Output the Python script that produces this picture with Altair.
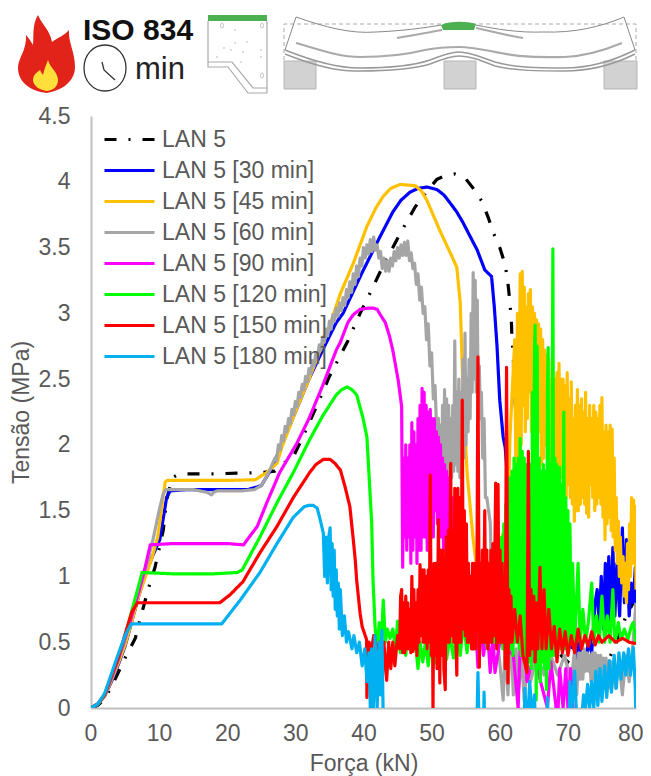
import altair as alt
import pandas as pd

NAMES = ["LAN 5", "LAN 5 [30 min]", "LAN 5 [45 min]", "LAN 5 [60 min]", "LAN 5 [90 min]",
         "LAN 5 [120 min]", "LAN 5 [150 min]", "LAN 5 [180 min]"]
COLORS = ["#000000", "#0000FF", "#FFC000", "#A5A5A5", "#FF00FF", "#00FF00", "#FF0000", "#00B0F0"]
DASHES = [[12, 12, 2, 12], [1, 0], [1, 0], [1, 0], [1, 0], [1, 0], [1, 0], [1, 0]]

LAN5 = [(0,0),(1,.02),(2,.07),(3,.16),(4,.27),(5,.38),(6.5,.53),(7.6,.75),(8.5,.92),(9.4,1.07),(10.6,1.35),(11.1,1.58),(11.9,1.75),
(13,1.78),(18,1.78),(25,1.79),(27,1.8),(28,1.85),(29.7,1.91),(31,2.05),(33,2.28),(35,2.52),(37.7,2.79),(39.5,3.0),(41.2,3.18),(42.4,3.31),
(44.9,3.56),(46.4,3.7),(47.6,3.81),(49.5,3.94),(50.8,4.02),(52.2,4.05),(53.4,4.06),(54.9,4.03),(56.1,3.95),(57.4,3.85),(58.3,3.73),(59,3.62),
(60,3.5),(60.8,3.37),(61.2,3.23),(61.5,3.08),(61.7,2.95),(61.8,2.8),(62,2.67),(62.05,2.52),(62.5,2.11),(62.7,1.98),(63.2,1.66),(63.5,1.2),
(64.5,.9),(66,.6),(68,.45),(70,.35),(71.8,.29),(73.5,.28),(75.7,.34),(76.2,.39),(77.4,.53),(78.4,.68),(79.4,.78),(80,.85)]

LAN5_30 = [(0,0),(1,.03),(2,.09),(3,.2),(4,.33),(5,.47),(6,.66),(7,.85),(8,1.02),(9,1.15),(10.1,1.28),(11.1,1.6),(11.6,1.65),(14,1.66),(20,1.66),
(23,1.66),(25,1.69),(26.5,1.82),(28,2.0),(30,2.25),(32,2.5),(34,2.72),(36,2.93),(37,3.0),(39.8,3.31),(42.4,3.58),(44.3,3.77),(45.5,3.86),(46.8,3.92),(48,3.95),(49.3,3.96),
(50.8,3.94),(51.8,3.9),(52.7,3.84),(53.7,3.77),(54.6,3.69),(56.7,3.48),(57.8,3.33),(58.8,3.28),(59.2,3.05),(59.6,2.75),(60,2.34),(60.5,2.06),(60.8,1.98),(61.5,1.5),
(62.5,1.0),(63.5,.7),(65,.6),(67,.55),(69,.5),(71,.45),(71.3,.36),(71.6,.5),(72,.38),(72.6,.33),(73,.5),(73.5,.42),(74,.8),(74.3,.9),(74.6,.65),
(74.9,1.0),(75.2,.6),(75.5,1.1),(75.8,.6),(76,1.15),(76.3,.65),(76.6,1.22),(76.9,.7),(77.2,1.1),(77.6,.7),(78,1.37),(78.3,.8),(78.6,1.28),(79,.7),
(79.3,.95),(79.6,.8),(79.9,1.07),(80,.77)]

LAN5_45 = [(0,0),(1,.03),(2,.09),(3,.21),(4,.34),(5,.48),(6,.66),(7,.85),(8,1.0),(9,1.15),(9.8,1.3),(10.9,1.72),(11.2,1.73),(20,1.73),(24.1,1.735),
(25.8,1.79),(27.3,1.86),(28,1.98),(30,2.25),(32,2.5),(34,2.77),(35,2.9),(36.6,3.15),(38.5,3.38),(40.5,3.66),(41.8,3.8),(42.9,3.89),(44,3.95),(45.4,3.98),(47.6,3.97),
(48.5,3.93),(49.3,3.86),(51.2,3.63),(53,3.43),(53.7,3.35),(54.2,3.08),(54.5,2.59),(54.7,2.3),(55.2,1.79),(56.1,1.28),(56.7,1.03),(57.2,1.0),(58,.9),(59,1.0),
(60.5,1.33),(61,1.0),(61.5,2.06),(62.2,2.8),(62.4,1.6),(62.6,3.0),(62.8,1.9),(63,3.3),(63.15,2.0),(63.3,3.32),(63.45,2.3),(63.6,3.2),(63.75,2.1),(63.9,3.05),(64.05,2.2),
(64.2,3.15),(64.35,2.4),(64.5,3.18),(64.65,2.1),(64.8,3.05),(64.95,2.2),(65.1,3.0),(65.25,2.2),(65.4,2.95),(65.55,2.0),(65.7,2.92),(65.85,2.1),(66,2.88),(66.15,1.85),(66.3,2.8),
(66.45,1.9),(66.6,2.72),(66.75,2.0),(66.9,2.68),(67.05,2.0),(67.2,2.65),(67.35,1.75),(67.5,2.5),(67.65,1.9),(67.8,2.4),(67.95,1.8),(68.1,2.5),(68.25,1.85),(68.4,2.55),(68.55,1.7),
(68.7,2.62),(68.85,1.85),(69,2.5),(69.15,1.75),(69.3,2.5),(69.45,1.7),(69.6,2.45),(69.75,1.6),(69.9,2.55),(70.05,1.7),(70.2,2.35),(70.35,1.6),(70.5,2.48),(70.65,1.55),(70.8,2.2),
(70.95,1.42),(71.1,2.3),(71.25,1.5),(71.4,2.42),(71.55,1.5),(71.7,2.3),(71.85,1.55),(72,2.35),(72.15,1.6),(72.3,2.25),(72.45,1.55),(72.6,2.4),(72.75,1.48),(72.9,2.2),(73.05,1.45),(73.2,2.3),
(73.35,1.7),(73.5,2.2),(73.65,1.6),(73.8,2.3),(73.95,1.5),(74.1,2.25),(74.25,1.55),(74.4,2.2),(74.55,1.6),(74.7,2.3),(74.85,1.55),(75,2.36),(75.15,1.45),(75.3,2.1),(75.45,1.28),(75.6,2.15),
(75.75,1.4),(75.9,2.1),(76.05,1.45),(76.2,2.15),(76.35,1.35),(76.5,2.12),(76.65,1.3),(76.8,1.9),(76.95,1.2),(77.1,1.6),(77.25,1.1),(77.4,1.42),(77.55,1.0),(77.7,1.3),(77.9,.95),(78.1,1.15),
(78.3,.85),(78.45,1.1),(78.6,.8),(78.75,1.25),(78.9,.9),(79.05,1.4),(79.2,1.0),(79.35,1.6),(79.5,1.1),(79.65,1.58),(79.8,1.1),(79.9,1.53),(80,.9)]

LAN5_60 = [(0,0),(1,.03),(2,.1),(3,.22),(4,.36),(5,.52),(6,.72),(7,.88),(8,1.05),(9.1,1.28),(10,1.5),(10.6,1.63),(11,1.66),(13,1.66),(15,1.66),(16,1.65),
(17,1.64),(17.7,1.62),(18,1.64),(18.5,1.65),(20,1.65),(22,1.65),(24,1.66),(25,1.69),(26,1.78),(26.5,1.84),(27,1.9),(27.25,1.88),(27.5,2.0),(27.75,1.96),(28,2.07),(28.25,2.03),(28.5,2.14),(28.75,2.1),
(29,2.2),(29.25,2.16),(29.5,2.27),(29.75,2.23),(30,2.33),(30.25,2.29),(30.5,2.4),(30.75,2.36),(31,2.46),(31.25,2.42),(31.5,2.52),(31.75,2.48),(32,2.58),(32.25,2.54),(32.5,2.64),(32.75,2.6),
(33,2.7),(33.25,2.66),(33.5,2.76),(33.75,2.72),(34,2.82),(34.25,2.78),(34.5,2.88),(34.75,2.83),(35,2.94),(35.25,2.88),(35.5,2.99),(35.75,2.94),(36,3.04),(36.25,2.98),(36.5,3.08),(36.75,3.02),
(37,3.12),(37.25,3.06),(37.5,3.18),(37.75,3.12),(38,3.24),(38.25,3.16),(38.5,3.3),(38.75,3.22),(39,3.36),(39.25,3.28),(39.5,3.42),(39.75,3.36),(40,3.5),(40.25,3.42),(40.5,3.52),(40.75,3.45),
(41,3.56),(41.25,3.47),(41.5,3.58),(41.75,3.48),(42,3.52),(42.25,3.42),(42.5,3.47),(42.75,3.34),(43,3.42),(43.25,3.32),(43.5,3.4),(43.75,3.32),(44,3.42),(44.25,3.36),(44.5,3.47),(44.75,3.4),
(45,3.5),(45.25,3.42),(45.5,3.52),(45.75,3.44),(46,3.54),(46.25,3.44),(46.5,3.55),(46.75,3.4),(47,3.46),(47.25,3.34),(47.5,3.38),(47.75,3.22),(48,3.3),(48.25,3.1),(48.5,3.2),(48.75,3.0),
(49,3.05),(49.25,2.8),(49.5,2.92),(49.75,2.6),(50,2.7),(50.25,2.35),(50.5,2.45),(50.75,2.1),(51,2.2),(51.15,1.45),(51.3,2.15),(51.45,1.5),(51.6,2.3),(51.75,1.55),(51.9,2.42),(52.05,1.6),(52.2,2.35),(52.35,1.65),
(52.5,2.3),(52.65,1.7),(52.8,2.2),(52.95,1.75),(53.1,2.3),(53.25,1.8),(53.4,2.79),(53.55,1.85),(53.7,2.4),(53.85,1.8),(54,2.5),(54.15,1.75),(54.3,2.4),(54.45,1.85),(54.6,2.65),(54.75,1.9),(54.9,2.85),(55.05,2.0),
(55.2,2.5),(55.35,2.1),(55.5,2.65),(55.65,2.2),(55.8,3.0),(55.95,2.4),(56.1,3.31),(56.25,2.5),(56.4,3.25),(56.55,2.4),(56.7,3.1),(56.85,2.2),(57,2.6),(57.15,2.2),(57.3,2.4),(57.5,1.9),(57.7,2.2),(57.9,1.6),(58.1,1.6),(58.6,1.41),
(58.8,1.0),(59,1.2),(59.5,.6),(60,.35),(60.5,.06),(60.8,.5),(61.2,.1),(61.6,.6),(62,.1),(62.4,.45),(62.8,.15),(63.2,.4),(63.6,.05),(64,.35),(64.5,.2),(65.5,.4),(66.5,.25),(67.5,.4),(68.5,.25),(69.5,.4),(70.5,.2),(71,.45),
(71.3,.1),(71.6,.42),(71.8,.22),(72,.42),(72.2,.22),(72.4,.45),(72.6,.28),(72.8,.42),(73,.28),(73.2,.4),(73.4,.2),(73.6,.42),(73.8,.22),(74,.42),(74.2,.25),(74.4,.4),(74.6,.25),(74.8,.4),(75,.2),(75.2,.38),(75.4,.2),(75.6,.38),
(76,.15),(76.5,.35),(77,.15),(77.5,.35),(78,.1),(78.5,.4),(79,.2),(79.5,.45),(80,.8)]

LAN5_90 = [(0,0),(1,.03),(2,.1),(3,.23),(4,.37),(5,.53),(6,.7),(7,.88),(8,1.08),(8.7,1.24),(12,1.25),(16,1.25),(20,1.25),(22.4,1.24),(22.8,1.27),(24.4,1.38),
(25.8,1.56),(27.7,1.79),(30.2,2.01),(32,2.2),(34,2.45),(36,2.72),(36.6,2.78),(37.7,2.93),(38.5,2.99),(39.5,3.03),(40.7,3.04),(41.4,3.04),(42,3.03),(42.7,2.97),(43.2,2.93),(43.8,2.83),(44.3,2.72),(45.1,2.49),
(45.6,2.29),(45.75,1.07),(45.9,1.9),(46.05,1.3),(46.2,2.0),(46.35,1.2),(46.5,1.9),(46.65,1.3),(46.8,2.0),(46.95,1.1),(47.1,2.17),(47.25,1.2),(47.4,2.1),(47.55,1.3),(47.7,2.0),(47.85,1.1),(48,2.2),(48.15,1.2),
(48.3,2.3),(48.45,1.2),(48.6,2.43),(48.75,1.3),(48.9,2.4),(49.05,1.3),(49.2,2.3),(49.35,1.2),(49.5,2.25),(49.65,1.2),(49.8,2.27),(49.95,1.3),(50.1,2.2),(50.25,1.3),(50.4,2.2),(50.55,1.5),(50.7,2.1),(50.85,1.4),
(51,2.06),(51.15,1.3),(51.3,2.0),(51.45,1.3),(51.6,1.9),(51.75,1.2),(51.9,1.85),(52.05,1.2),(52.2,1.8),(52.4,1.1),(52.6,1.75),(52.8,1.0),(53,1.6),(53.2,.9),(53.4,1.5),(53.6,.8),(53.8,1.3),(54,.8),
(54.2,1.2),(54.4,.7),(54.8,1.1),(55.2,.5),(55.6,.9),(56,.45),(56.4,.7),(56.8,.31),(57.2,.65),(57.6,.4),(58.2,.6),(58.6,.27),(59,.55),(59.3,.27),(60,.5),
(61,.45),(62,.4),(62.7,0),(63,.5),(63.5,.5),(64,.2),(65,.4),(66.5,.1),(67,0),(67.5,.35),(68.5,-.1),(68.8,.3),(69.3,0),(69.7,.3),(70,0),(70.4,.3),(71,-.2)]

LAN5_120 = [(0,0),(1,.03),(2,.1),(3,.24),(4,.38),(5,.55),(6,.74),(7,.93),(7.5,1.03),(12,1.02),(18,1.02),(21.5,1.03),(22.2,1.05),(24.8,1.3),(27.3,1.56),(29.7,1.79),
(32.1,2.04),(34,2.22),(36,2.38),(36.8,2.42),(37.6,2.44),(38.3,2.42),(39,2.38),(39.9,2.21),(40.5,2.06),(41.2,1.41),(41.4,.97),(41.7,.62),(42,.4),(42.3,.65),(42.6,.45),(42.9,.82),(43.2,.5),
(43.5,.6),(43.9,.53),(44.3,.6),(44.7,.45),(45,.66),(45.4,.42),(45.8,.6),(46.2,.4),(46.6,.6),(47,.45),(47.5,.55),(48,.3),(48.3,.5),(48.7,.35),(49.1,.5),(49.5,.32),
(50,.55),(50.4,.34),(50.8,.55),(51.3,.45),(51.7,.55),(52.2,.37),(52.7,.55),(53.2,.38),(53.7,.6),(54.2,.4),(54.7,.65),(55.2,.42),(55.7,.7),(56.2,.45),(56.7,.75),
(57.2,.5),(57.7,.65),(58.2,.45),(58.7,.8),(59.2,.5),(59.5,.9),(59.7,1.0),(59.85,.5),(60,1.1),(60.15,.5),(60.3,1.3),(60.45,.45),(60.6,1.4),(60.75,.5),(60.9,1.55),(61.05,.5),(61.2,1.6),(61.35,.45),(61.5,1.75),(61.65,.45),
(61.8,1.8),(61.95,.4),(62.1,1.9),(62.25,.5),(62.4,1.85),(62.55,.5),(62.7,1.9),(62.85,.45),(63,2.05),(63.15,.4),(63.3,1.95),(63.45,.45),(63.6,1.9),(63.75,.4),(63.9,1.85),(64.05,.3),(64.2,1.8),(64.35,.35),(64.5,1.85),(64.65,.3),
(64.8,2.4),(64.95,.4),(65.1,2.75),(65.2,2.91),(65.35,.06),(65.5,2.75),(65.65,.3),(65.8,1.9),(65.95,.2),(66.1,1.8),(66.25,.35),(66.4,1.85),(66.55,.3),(66.7,1.8),(66.85,.14),(67,2.4),(67.1,2.74),(67.25,.3),(67.4,1.85),(67.55,.4),
(67.8,3.49),(67.95,.4),(68.1,1.9),(68.25,.45),(68.4,1.85),(68.55,.5),(68.8,1.83),(68.95,.45),(69.1,1.7),(69.25,.5),(69.4,2.25),(69.55,.45),(69.7,1.6),(69.85,.5),(70,1.5),(70.15,.5),(70.3,1.4),(70.5,.5),
(70.7,1.1),(71,.5),(71.5,1.1),(71.8,.5),(72.2,.75),(72.6,.5),(73,.65),(73.5,.95),(73.8,.5),(74.2,.7),(74.6,.5),(75,.85),(75.4,.5),(75.8,.7),(76.2,.5),(76.6,.9),
(76.9,.5),(77.4,.65),(77.8,.52),(78.3,.6),(78.8,.52),(79.3,.62),(79.6,.65),(80,.5)]

LAN5_150 = [(0,0),(1,.03),(2,.1),(3,.24),(4,.38),(5,.56),(6,.73),(6.8,.8),(12,.8),(18.9,.8),(20.4,.86),(22.3,.96),(24.8,1.18),(27.3,1.38),(29.7,1.6),(32.1,1.79),(33,1.85),(34.1,1.89),
(35.1,1.89),(35.8,1.86),(36.6,1.81),(37.3,1.68),(38,1.53),(38.5,1.28),(38.8,1.12),(39,.97),(39.5,.72),(39.8,.62),(40.45,.52),(40.5,.08),(40.8,.5),(41.2,.45),(41.5,.55),(42,.45),(42.4,.5),
(42.7,.15),(43,.5),(43.4,.21),(43.7,.5),(44,.3),(44.3,.5),(44.6,.32),(45,.55),(45.3,.45),(45.45,.85),(45.6,.9),(45.75,.42),(45.9,.8),(46.05,.42),(46.2,.85),(46.35,.45),(46.5,.8),(46.65,.45),(46.8,.75),(46.95,.42),
(47.1,1.0),(47.25,.43),(47.4,.9),(47.55,.45),(47.7,.8),(47.85,.4),(48,.9),(48.15,.5),(48.3,1.09),(48.45,.55),(48.6,1.05),(48.75,.5),(48.9,1.05),(49.05,.5),(49.2,1.0),(49.35,.45),(49.5,1.05),(49.65,.5),(49.8,1.77),
(49.95,.4),(50.1,.9),(50.2,0),(50.35,1.1),(50.5,.4),(50.65,1.1),(50.8,.3),(51,1.43),(51.2,.19),(51.35,1.2),(51.5,.4),(51.65,1.2),(51.8,.3),(52,.14),(52.15,1.3),(52.3,.5),(52.45,1.35),(52.6,.5),(52.8,1.86),
(52.95,.55),(53.1,1.35),(53.25,.5),(53.4,1.67),(53.55,.55),(53.7,.25),(53.85,1.67),(54,.5),(54.15,1.6),(54.3,.5),(54.5,2.34),(54.65,.6),(54.8,1.5),(54.95,.55),(55.1,1.4),(55.25,.5),(55.4,1.1),(55.55,.5),(55.7,1.0),
(55.85,.45),(56,1.1),(56.15,.45),(56.3,1.1),(56.45,.45),(56.65,1.0),(56.8,2.67),(57,.31),(57.15,1.1),(57.3,.5),(57.45,1.2),(57.6,.5),(57.8,1.5),(57.95,.5),(58.1,1.2),(58.25,.45),(58.4,1.1),(58.55,.5),(58.7,1.2),
(58.85,.5),(59,1.25),(59.15,.55),(59.4,1.71),(59.55,.45),(59.75,1.7),(59.9,.5),(60.05,1.2),(60.2,.5),(60.35,1.1),(60.5,.5),(60.65,1.0),(60.8,.3),(61,2.59),(61.2,.19),(61.35,.9),(61.5,.5),(61.65,.85),(61.8,.5),
(62.2,.75),(62.6,.5),(63,.7),(63.4,.4),(64,.27),(64.2,1.95),(64.4,.4),(64.6,.9),(64.8,.45),(65,.85),(65.2,.35),(65.4,.8),(65.6,.45),(65.9,1.07),(66.2,.45),(66.5,.9),(66.8,.45),(67.2,.75),(67.6,.45),(68,.62),
(68.4,.35),(68.8,.6),(69.2,.42),(69.6,.58),(70,.4),(70.5,.55),(71,.42),(71.5,.6),(72,.45),(72.5,.55),(73,.47),(73.5,.58),(74,.48),(74.5,.55),(75,.5),(76,.55),(77,.5),(78,.53),(79,.5),(80,.49)]

LAN5_180 = [(0,0),(1,.03),(2,.11),(3,.26),(4,.41),(5,.55),(5.9,.64),(10,.64),(15,.64),(19.2,.64),(21.9,.82),(24.8,1.03),(27.3,1.25),(29.7,1.45),(30.7,1.5),(31.3,1.53),(31.9,1.54),(32.6,1.54),(33.2,1.52),
(33.6,1.44),(34.1,1.33),(34.3,1.0),(34.5,1.3),(34.7,.95),(34.9,1.3),(35.1,1.37),(35.25,.9),(35.4,1.25),(35.55,.85),(35.7,1.2),(35.85,.75),(36,1.05),(36.15,.7),(36.3,.95),(36.45,.6),(36.6,.9),(36.9,.55),(37.2,.7),(37.5,.5),(37.8,.58),
(38.3,.45),(38.6,.55),(39,.42),(39.4,.5),(39.8,.32),(40.2,.45),(40.5,.2),(40.8,.42),(41,0),(41.2,.45),(41.4,-.1),(41.7,.55),(42,0),(42.3,.5),(42.5,.1),(42.7,.59),(42.9,-.1),
(43.2,-.5),(56.5,-.5),(56.8,.27),(57.1,-.5),(57.5,-.5),(57.7,.12),(57.9,-.5),(63.4,-.5),(63.7,.15),(64,-.2),(64.4,.2),(64.8,-.1),(65.1,.1),(65.4,-.5),(66.8,-.5),(67,.08),
(67.2,-.5),(70,-.5),(70.3,.2),(70.6,0),(71,.28),(71.3,-.1),(72,-.1),(72.3,.1),(72.6,0),(72.9,.18),(73.2,0),(73.5,.2),(73.8,0),(74.1,.28),(74.4,.02),(74.7,.3),(75,.05),
(75.4,.32),(75.7,.08),(76.1,.36),(76.4,.12),(76.8,.4),(77.1,.15),(77.5,.42),(77.8,.22),(78.2,.42),(78.5,.25),(78.9,.45),(79.2,.25),(79.6,.46),(79.9,.15),(80,-.2)]

SERIES = [LAN5, LAN5_30, LAN5_45, LAN5_60, LAN5_90, LAN5_120, LAN5_150, LAN5_180]

# header icons (path coordinates are page pixels)
FLAME_RED = "M38,15 C42,25 50,30 52,42 C57,38 65,35 69,30 C68,42 75,52 75,67 C75,80 64,90 47,93 C30,91 18,82 18,68 C18,58 27,50 26,35 C29,38 31,42 33,45 C34,34 32,25 38,15Z"
FLAME_YEL = "M48,60 C50,68 58,72 58,80 C58,86 54,90 47,91 C40,90 33,86 33,80 C33,74 38,72 40,70 C41,72 42,74 43,75 C44,70 46,65 48,60Z"
CLOCK = "M84,68 C84,55 93,45 105,45 C117,45 126,55 126,68 C126,81 117,91 105,91 C93,91 84,81 84,68Z M102,62 L104,70 L115,80"
SEC_GREEN = "M208,15 H267 V21 H208Z"
SEC_LINES = "M208,21 V62 H232 L253,88 H267 M208,62 V67 H228 L248,93 H267 M267,21 V93"
SEC_DOTS = "M222,23 a1.5,2.5 0 1 0 0.1,0Z M262,23 a1.5,2.5 0 1 0 0.1,0Z M262,73 a1.5,2.5 0 1 0 0.1,0Z M234,30 h2 M246,42 h2 M234,43 h2 M223,48 h2 M230,50 h2 M242,52 h2 M260,50 h2 M260,57 h2 M216,57 h2 M240,62 h2"
BEAM_GREEN = "M441,25 C450,21 466,21 476,24 L474,30 H443Z"
BEAM_TOP = "M285,50 L296,17 C325,27 350,34 376,32 C400,31 425,28 441,25 M476,25 C495,29 520,33 543,32 C575,33 600,27 624,17 L635,50"
BEAM_BOT = "M285,50 C310,60 335,68 359,68 C385,68 410,67 430,60 C440,56 450,52 459,52 C470,52 480,57 495,62 C515,68 540,68 564,68 C590,68 615,60 635,50 M285,54 C310,64 335,72 359,71 C385,71 410,70 430,64 C440,60 450,56 459,56 C470,56 480,60 495,66 C515,71 540,71 564,71 C590,71 615,64 635,54"
BEAM_STRIP = "M296,43 C320,50 340,57 360,57 C385,57 405,55 425,50 C440,47 450,47 459,47 C470,47 485,50 501,53 C525,58 545,57 565,57 C585,56 605,50 622,43 M397,38 C415,35 430,32 442,30 M476,28 C490,31 505,35 523,38"
BEAM_DASH = "M284,60 V24 H636 V60"
SUPPORTS = "M284,61 H316 V89 H284Z M444,61 H476 V89 H444Z M604,61 H637 V89 H604Z"

rows = []
for name, pts in zip(NAMES, SERIES):
    for i, (x, y) in enumerate(pts):
        rows.append({"series": name, "force": x, "stress": y, "idx": i})
df = pd.DataFrame(rows)

legend = alt.Legend(title=None, orient="none", legendX=27, legendY=12, symbolType="M-5,0H5", symbolSize=100,
                    symbolStrokeWidth=3, labelFontSize=23, labelFont="Liberation Sans", labelColor="#595959",
                    labelOffset=21, rowPadding=7, labelLimit=300, symbolOpacity=1, values=NAMES)

lines = alt.Chart(df).mark_line(strokeWidth=3.2, clip=True, strokeJoin="round").encode(
    x=alt.X("force:Q", scale=alt.Scale(domain=[0, 80], nice=False),
            axis=alt.Axis(values=list(range(0, 81, 10)), title="Força (kN)", grid=False, ticks=False, labelFlush=True, labelFlushOffset=7,
                          labelFontSize=23, labelFont="Liberation Sans", labelColor="#595959", labelPadding=14,
                          titleFontSize=23, titleFont="Liberation Sans", titleColor="#595959", titleFontWeight="normal",
                          titleY=44, domainColor="#BFBFBF", domainWidth=2)),
    y=alt.Y("stress:Q", scale=alt.Scale(domain=[0, 4.5], nice=False),
            axis=alt.Axis(values=[0, .5, 1, 1.5, 2, 2.5, 3, 3.5, 4, 4.5], format="~g", title="Tensão (MPa)", grid=False, ticks=False,
                          labelFontSize=23, labelFont="Liberation Sans", labelColor="#595959", labelPadding=21, labelFlush=False,
                          titleFontSize=23, titleFont="Liberation Sans", titleColor="#595959", titleFontWeight="normal",
                          titleX=-58, domainColor="#BFBFBF", domainWidth=2)),
    color=alt.Color("series:N", scale=alt.Scale(domain=NAMES, range=COLORS), legend=legend),
    strokeDash=alt.StrokeDash("series:N", scale=alt.Scale(domain=NAMES, range=DASHES), legend=legend),
    order="idx:Q",
)

one = alt.Data(values=[{"a": 0}])
OX, OY = -91, -116

def icon(path, fill=None, stroke=None, sw=1.0, dash=None):
    kw = {"shape": path, "size": 4, "opacity": 1, "strokeWidth": sw}
    if fill:
        kw["fill"] = fill
        kw["filled"] = True
    else:
        kw["filled"] = False
        kw["fillOpacity"] = 0
    if stroke:
        kw["stroke"] = stroke
    else:
        kw["strokeWidth"] = 0
    if dash:
        kw["strokeDash"] = dash
    return alt.Chart(one).mark_point(**kw).encode(x=alt.value(OX), y=alt.value(OY))

def label(text, px, py, size, weight="normal", color="#1a1a1a"):
    return alt.Chart(one).mark_text(text=text, align="left", baseline="alphabetic", fontSize=size, fontWeight=weight,
                                    font="Liberation Sans", color=color).encode(x=alt.value(px + OX), y=alt.value(py + OY))

header = [
    icon(FLAME_RED, fill="#E2231A"), icon(FLAME_YEL, fill="#FFE03A"),
    label("ISO 834", 83, 40, 30, "bold", "#111111"), icon(CLOCK, stroke="#333333", sw=1.3),
    label("min", 135, 79, 31, "normal", "#222222"),
    icon(SEC_LINES, stroke="#AAAAAA", sw=1.2), icon(SEC_DOTS, stroke="#BBBBBB", sw=1), icon(SEC_GREEN, fill="#4CAF50"),
    icon(SUPPORTS, fill="#D2D2D2", stroke="#B5B5B5", sw=1), icon(BEAM_DASH, stroke="#AAAAAA", sw=1, dash=[4, 3]),
    icon(BEAM_TOP, stroke="#888888", sw=1), icon(BEAM_BOT, stroke="#999999", sw=1.4), icon(BEAM_STRIP, stroke="#AAAAAA", sw=2.2),
    icon(BEAM_GREEN, fill="#4CAF50"),
]

chart = alt.layer(lines, *header).properties(
    width=545, height=592,
    autosize=alt.AutoSizeParams(type="none"),
    padding={"left": 83, "top": 108, "right": 7, "bottom": 68},
).configure_view(stroke=None)

chart.save("out.html", embed_options={"renderer": "svg", "actions": False})
